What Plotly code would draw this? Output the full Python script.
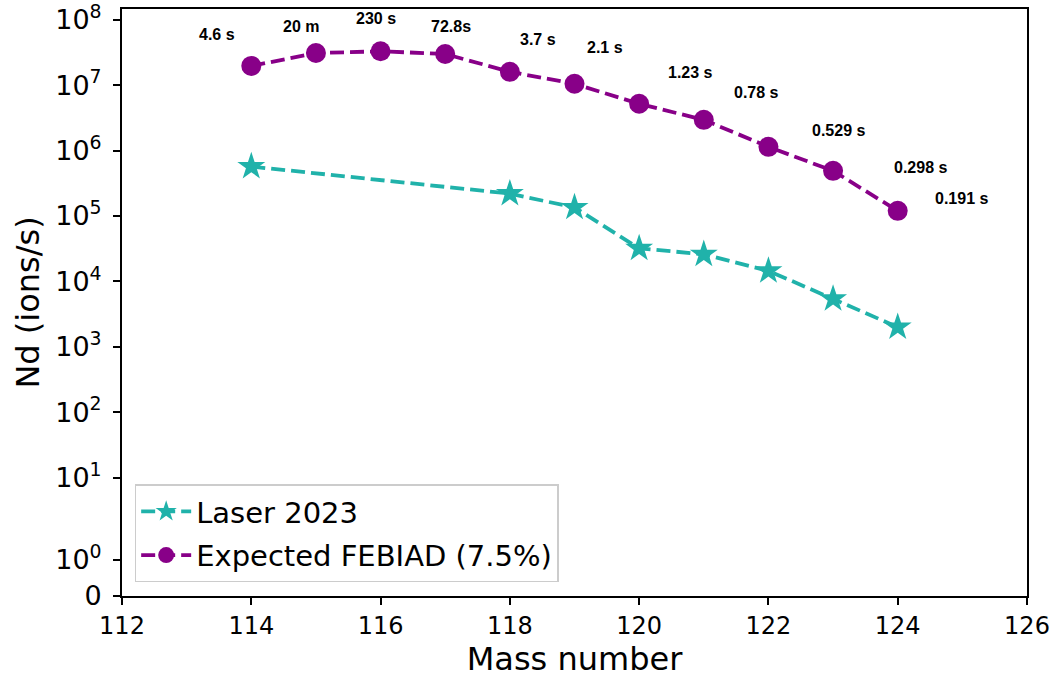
import numpy as np
import plotly.graph_objects as go

# Measured Nd yields (ions/s)
mass_laser = [114, 118, 119, 120, 121, 122, 123, 124]
rate_laser = [5.7e5, 2.2e5, 1.35e5, 3.2e4, 2.6e4, 1.45e4, 5.4e3, 2.0e3]

mass_febiad = [114, 115, 116, 117, 118, 119, 120, 121, 122, 123, 124]
rate_febiad = [1.97e7, 3.1e7, 3.3e7, 3.0e7, 1.6e7, 1.05e7, 5.2e6, 2.95e6, 1.14e6, 4.9e5, 1.2e5]

# Half-lives written next to the FEBIAD points
half_lives = ["4.6 s", "20 m", "230 s", "72.8s", "3.7 s", "2.1 s",
              "1.23 s", "0.78 s", "0.529 s", "0.298 s", "0.191 s"]

# y tick values and labels
y_ticks = [0, 1, 1e1, 1e2, 1e3, 1e4, 1e5, 1e6, 1e7, 1e8]
y_ticktext = ["0"] + [f"10<sup>{k}</sup>" for k in range(0, 9)]

# Symmetric log scale (linear below LINTHRESH), in decade units
LINTHRESH = 2.0
LINSCALE = 1.0
_L = LINSCALE / (1 - 1 / 10)


def symlog(v):
    v = np.asarray(v, dtype=float)
    a = np.abs(v)
    out = np.where(a <= LINTHRESH, a * _L / LINTHRESH,
                   _L + np.log10(np.maximum(a, 1e-300) / LINTHRESH))
    return np.sign(v) * out


# where each half-life label sits: (mass number, ions/s)
label_pos = [(113.47, 5.86e7), (114.77, 7.85e7), (115.93, 1.03e8), (117.09, 7.85e7),
             (118.44, 4.92e7), (119.47, 3.75e7), (120.80, 1.54e7), (121.82, 7.6e6),
             (123.08, 2.0e6), (124.35, 5.6e5), (124.98, 1.88e5)]

TEAL = "#20b2aa"
PURPLE = "#880088"

fig = go.Figure()
fig.add_trace(go.Scatter(
    x=mass_laser, y=symlog(rate_laser), mode="lines+markers", name="Laser 2023",
    legendgroup="laser",
    line=dict(color=TEAL, width=3.8, dash="14px,6px"),
    marker=dict(symbol="star", size=21, color=TEAL),
))
fig.add_trace(go.Scatter(
    x=mass_febiad, y=symlog(rate_febiad), mode="lines+markers",
    name="Expected FEBIAD (7.5%)", legendgroup="febiad",
    line=dict(color=PURPLE, width=3.8, dash="14px,6px"),
    marker=dict(symbol="circle", size=20, color=PURPLE),
))

for txt, (lx, ly) in zip(half_lives, label_pos):
    fig.add_annotation(x=lx, y=float(symlog(ly)), text=f"<b>{txt}</b>", showarrow=False,
                       xanchor="center", yanchor="middle",
                       font=dict(family="Liberation Sans, Arial", size=16, color="black"))

axis_common = dict(showline=True, linecolor="black", linewidth=2, mirror=True,
                   ticks="outside", ticklen=7, tickwidth=2, tickcolor="black",
                   showgrid=False, zeroline=False, automargin=False,
                   ticklabeloverflow="allow")

fig.update_xaxes(range=[112, 126], tickmode="linear", tick0=112, dtick=2,
                 tickfont=dict(family="DejaVu Sans", size=24, color="black"),
                 title=dict(text="Mass number", font=dict(family="DejaVu Sans", size=32, color="black"),
                            standoff=4),
                 **axis_common)
fig.update_yaxes(range=[0, 8.975], tickmode="array", tickvals=symlog(y_ticks).tolist(),
                 ticktext=y_ticktext, ticklabelstandoff=6,
                 tickfont=dict(family="DejaVu Sans", size=27, color="black"),
                 title=dict(text="Nd (ions/s)", font=dict(family="DejaVu Sans", size=32, color="black"),
                            standoff=6),
                 **axis_common)

fig.update_layout(
    width=1055, height=681,
    margin=dict(l=122, r=28, t=9, b=85),
    paper_bgcolor="white", plot_bgcolor="white",
    showlegend=True,
    legend=dict(x=0.014, y=0.023, xanchor="left", yanchor="bottom",
                bgcolor="rgba(255,255,255,0.8)", bordercolor="#cccccc", borderwidth=1.5,
                font=dict(family="DejaVu Sans", size=29, color="black"),
                itemwidth=50, tracegroupgap=3),
)

fig.write_html("out.html")
